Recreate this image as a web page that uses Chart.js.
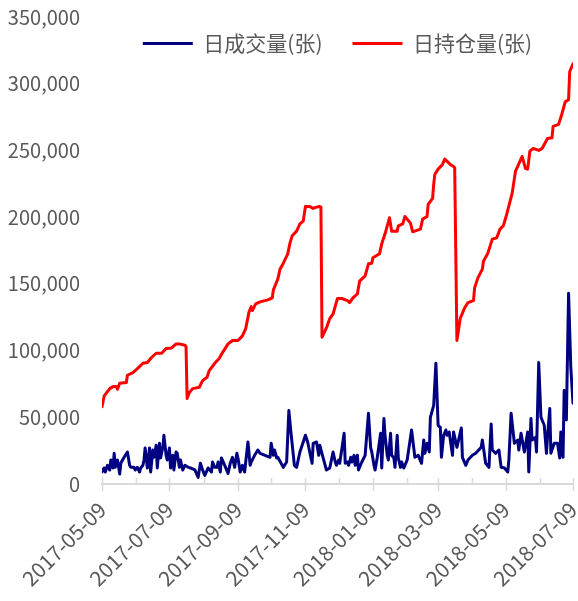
<!DOCTYPE html>
<html><head><meta charset="utf-8">
<script src="https://cdn.jsdelivr.net/npm/chart.js@4/dist/chart.umd.min.js"></script>
<style>html,body{margin:0;padding:0;background:#fff}#wrap{width:578px;height:601px}</style>
</head><body><div id="wrap"><canvas id="c" width="578" height="601"></canvas></div>
<script>
const seriesNames = ['日成交量(张)', '日持仓量(张)'];
const startDate = '2017-05-09';
const monthTicks = ['2017-05-09','2017-06-09','2017-07-09','2017-08-09','2017-09-09','2017-10-09','2017-11-09','2017-12-09','2018-01-09','2018-02-09','2018-03-09','2018-04-09','2018-05-09','2018-06-09','2018-07-09'];
const yTicks = [0, 50000, 100000, 150000, 200000, 250000, 300000, 350000];

// day offsets from startDate
const volDays = [0,1,2,3,5,7,8,10,11,12,14,16,17,20,23,25,26,29,30,32,34,35,37,38,39,41,43,44,46,47,49,50,52,53,55,56,58,59,61,62,64,65,67,68,70,71,73,75,78,80,84,87,88,89,91,93,96,99,100,102,104,105,107,108,111,114,116,118,120,122,123,125,127,129,132,134,135,138,141,143,152,153,155,156,158,159,162,164,167,169,171,174,176,179,182,184,186,190,191,194,196,197,200,203,206,209,211,212,214,215,219,220,222,223,225,226,228,229,231,232,235,238,241,243,244,246,247,249,252,253,255,256,258,259,261,262,264,265,267,268,270,271,273,274,276,280,283,286,289,291,292,294,296,297,300,302,304,306,307,309,311,312,314,317,318,321,325,326,329,331,335,338,343,344,347,350,352,353,356,359,361,364,367,368,370,373,376,377,379,382,385,386,388,389,392,393,395,397,400,402,403,405,406,409,412,414,415,417,418,420,422,424,426];
const volValues = [9000,11000,12000,9000,14000,10500,18000,12000,23000,12500,18000,7500,15500,20000,24000,14000,12500,12500,10500,12500,9000,12000,14000,18000,27000,12000,27000,9000,25500,20000,29000,12000,30500,19500,27500,36500,21500,18000,27000,12000,21500,10500,24000,23000,12500,18000,10500,14000,12500,12000,10500,5000,10500,15500,10500,6500,12000,9000,16500,12500,12500,16500,9000,19500,14000,8000,15500,20000,12500,23000,19500,9000,14000,9000,31500,14000,16500,21500,25500,23000,20000,30500,21500,25500,19500,20000,15500,12500,16500,55000,38000,14000,12500,24000,31500,36500,31500,15500,30500,31500,21500,29000,19500,10500,12000,24000,16500,14000,18000,15500,38000,15500,16500,14000,20000,16500,21500,14000,21500,10500,16500,21500,53000,27000,24000,14000,10500,20000,38000,12000,49000,36500,21500,18000,38000,21500,19500,12500,36500,19500,12500,16500,12000,14000,18000,40500,20000,21500,15500,33000,23000,30500,24000,50000,59000,90500,44000,42500,20000,36500,40500,36500,39000,21500,39000,27500,42000,20000,14000,18000,21500,23000,27500,33000,15500,12500,45000,25500,23000,25500,12500,12000,9000,18000,53000,30500,33000,25500,38000,24000,39000,9000,49000,33000,35000,24000,91000,50000,44000,23000,36500,56500,23000,30500,30500,19500,39000,20000,70000,48000,143000,87500,60500];

const oiDays = [0,2,7,10,13,14,16,22,23,28,32,37,41,45,49,54,58,63,67,70,75,76,77,79,82,88,91,95,97,102,106,109,114,118,123,127,130,133,135,136,139,143,150,154,155,159,161,164,168,170,172,176,179,182,184,188,191,194,197,198,199,203,206,209,213,217,222,224,227,231,233,238,241,244,245,251,253,256,260,262,267,268,272,274,279,281,288,290,294,295,299,300,301,304,308,310,315,318,319,321,324,328,331,336,337,340,344,345,349,353,357,360,363,366,371,374,376,380,383,385,387,390,395,398,403,407,408,413,416,419,422,423,426];
const oiValues = [58000,66000,71500,73000,73000,71000,75500,76000,81500,83500,86500,90500,91000,95000,98000,98000,101500,102000,105000,105000,104000,103000,64000,68500,71500,72500,77500,80000,85000,90500,94000,98500,105000,107500,107500,111000,116500,129000,133000,130000,135000,136500,138000,139500,145500,153500,161000,165500,172500,180500,186000,189500,195000,197000,208000,208000,206500,207500,208000,207500,110000,117000,124000,127500,139000,139000,137500,136000,139500,142500,152000,156000,165000,165500,169500,172500,180000,187500,199500,189500,189500,193500,195000,200500,195500,189000,191000,198500,200500,209500,214000,224500,232000,236000,239500,243500,239500,238000,237000,107500,124000,132000,136000,137500,147000,154500,161000,167000,173000,183500,184500,191000,193500,202000,218000,234500,238000,245500,236500,236000,249500,251500,250000,251500,259000,259500,268000,269500,277500,286500,288000,309000,315000];

const dayOf = s => (Date.parse(s + 'T00:00:00Z') - Date.parse(startDate + 'T00:00:00Z')) / 86400000;
const toPts = (xs, ys) => xs.map((d, i) => ({x: d, y: ys[i]}));

const FONT = '"Noto Sans CJK SC", "Open Sans", sans-serif';
const GREY = '#595959';
Chart.defaults.font.family = FONT;
Chart.defaults.color = GREY;

const axisTicks = {
  id: 'axisTicks',
  beforeDatasetsDraw(chart) {
    const xs = chart.scales.x, ctx = chart.ctx, y0 = xs.top;
    ctx.save();
    ctx.strokeStyle = '#d9d9d9';
    ctx.lineWidth = 1.5;
    xs.ticks.forEach((t, i) => {
      const px = Math.round(xs.getPixelForValue(t.value)) + 0.5;
      ctx.beginPath();
      ctx.moveTo(px, y0 - 6);
      ctx.lineTo(px, i % 2 === 0 ? y0 + 7 : y0);
      ctx.stroke();
    });
    ctx.restore();
  }
};

const LEGEND_TOP = 3;
const legendFloat = {
  id: 'legendFloat',
  beforeLayout(chart) {
    const lg = chart.legend;
    if (lg && !lg._floatPatched) {
      const f = lg.fit;
      lg.fit = function () { f.call(this); this._realHeight = this.height; this.height = 0; };
      lg._floatPatched = true;
    }
  },
  afterLayout(chart) {
    const lg = chart.legend;
    if (lg) { lg.top = LEGEND_TOP; lg.bottom = LEGEND_TOP + (lg._realHeight || 0); lg.height = lg._realHeight || 0; }
  }
};

new Chart(document.getElementById('c'), {
  type: 'line',
  data: {
    datasets: [
      { label: seriesNames[0], data: toPts(volDays, volValues), borderColor: '#000080', backgroundColor: '#000080',
        borderWidth: 3, pointRadius: 0, tension: 0, borderJoinStyle: 'round', borderCapStyle: 'round' },
      { label: seriesNames[1], data: toPts(oiDays, oiValues), borderColor: '#ff0000', backgroundColor: '#ff0000',
        borderWidth: 3, pointRadius: 0, tension: 0, borderJoinStyle: 'round', borderCapStyle: 'round' }
    ]
  },
  options: {
    responsive: false,
    animation: false,
    events: [],
    layout: { padding: 0 },
    plugins: {
      tooltip: { enabled: false },
      legend: {
        position: 'top', align: 'center', fullSize: false,
        labels: { usePointStyle: true, pointStyle: 'line', pointStyleWidth: 50, padding: 30,
                  color: GREY, font: { size: 21, family: FONT } }
      }
    },
    scales: {
      x: {
        type: 'linear', min: 0, max: dayOf(monthTicks[monthTicks.length - 1]),
        afterBuildTicks: s => { s.ticks = monthTicks.map(d => ({ value: dayOf(d) })); },
        afterFit: s => { s.height = 117; s.paddingLeft = 0; s.paddingRight = 5; },
        grid: { display: false, drawTicks: false },
        border: { display: true, color: '#d9d9d9', width: 2 },
        ticks: { autoSkip: false, minRotation: 45, maxRotation: 45, padding: 13, color: GREY,
                 font: { size: 21 },
                 callback: (v, i) => (i % 2 === 0 ? monthTicks[i] : '') }
      },
      y: {
        min: yTicks[0], max: yTicks[yTicks.length - 1],
        afterBuildTicks: s => { s.ticks = yTicks.map(v => ({ value: v })); },
        afterFit: s => { s.width = 102; s.paddingTop = 17; s.paddingBottom = 0; },
        grid: { display: false, drawTicks: false },
        border: { display: false },
        ticks: { padding: 22, color: GREY, font: { size: 20 },
                 callback: v => v.toLocaleString('en-US') }
      }
    }
  },
  plugins: [axisTicks, legendFloat]
});
</script>
</body></html>
